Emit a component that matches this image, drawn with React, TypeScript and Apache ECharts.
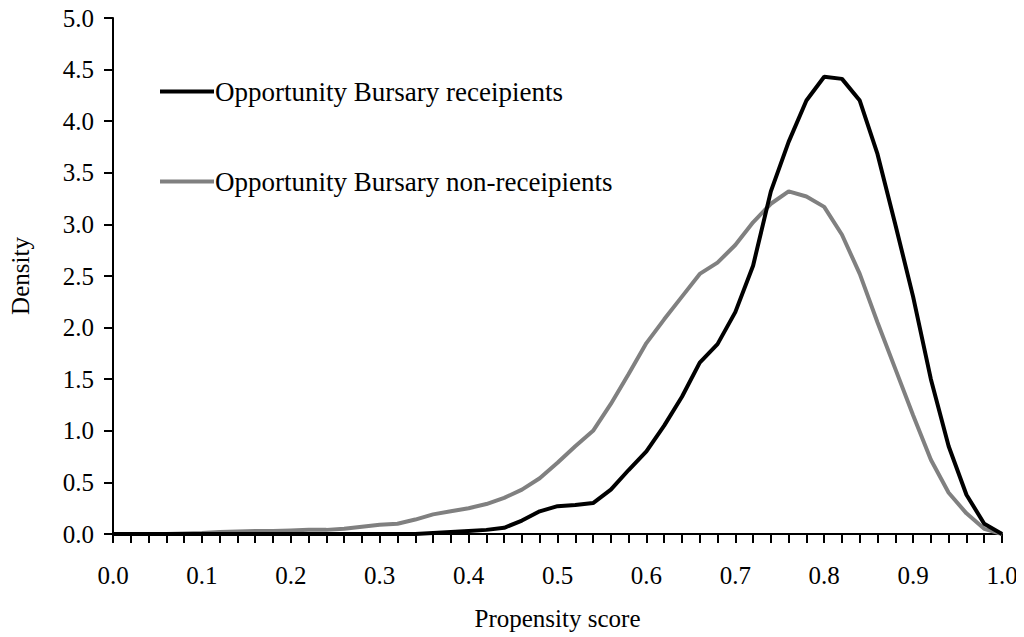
import React, { useEffect, useRef } from "react";
import * as echarts from "echarts";

const scores = [
  0.0, 0.02, 0.04, 0.06, 0.08, 0.1, 0.12, 0.14, 0.16, 0.18, 0.2, 0.22, 0.24, 0.26, 0.28, 0.3,
  0.32, 0.34, 0.36, 0.38, 0.4, 0.42, 0.44, 0.46, 0.48, 0.5, 0.52, 0.54, 0.56, 0.58, 0.6,
  0.62, 0.64, 0.66, 0.68, 0.7, 0.72, 0.74, 0.76, 0.78, 0.8, 0.82, 0.84, 0.86, 0.88, 0.9,
  0.92, 0.94, 0.96, 0.98, 1.0,
];

const receipients = [
  0, 0, 0, 0, 0, 0, 0, 0, 0, 0, 0, 0, 0, 0, 0, 0,
  0, 0, 0.01, 0.02, 0.03, 0.04, 0.06, 0.13, 0.22, 0.27, 0.28, 0.3, 0.43, 0.62, 0.8,
  1.05, 1.33, 1.66, 1.84, 2.15, 2.6, 3.32, 3.8, 4.2, 4.43, 4.41, 4.2, 3.68, 3.0, 2.3,
  1.5, 0.85, 0.38, 0.1, 0.0,
];

const nonReceipients = [
  0, 0, 0, 0, 0.005, 0.01, 0.02, 0.025, 0.03, 0.03, 0.035, 0.04, 0.04, 0.05, 0.07, 0.09,
  0.1, 0.14, 0.19, 0.22, 0.25, 0.29, 0.35, 0.43, 0.54, 0.69, 0.85, 1.0, 1.26, 1.55, 1.85,
  2.08, 2.3, 2.52, 2.63, 2.8, 3.02, 3.2, 3.32, 3.27, 3.17, 2.9, 2.52, 2.05, 1.6, 1.15,
  0.72, 0.4, 0.2, 0.05, 0.0,
];

const seriesNames = ["Opportunity Bursary receipients", "Opportunity Bursary non-receipients"];

const FONT = "'Liberation Serif', 'Times New Roman', serif";

export default function App() {
  const ref = useRef<HTMLDivElement>(null);
  useEffect(() => {
    if (!ref.current) return;
    const chart = echarts.init(ref.current, undefined, { renderer: "svg" });
    chart.setOption({
      animation: false,
      backgroundColor: "#ffffff",
      textStyle: { fontFamily: FONT, color: "#000" },
      grid: { left: 102, right: 22, top: 18, bottom: 103, containLabel: false },
      legend: {
        orient: "vertical",
        left: 155,
        top: 73,
        itemGap: 63,
        itemWidth: 54,
        itemHeight: 4,
        icon: "rect",
        itemStyle: { borderWidth: 0 },
        textStyle: { fontFamily: FONT, fontSize: 27, color: "#000", padding: [0, 0, 0, -4] },
        data: seriesNames,
      },
      xAxis: {
        type: "value",
        min: 0,
        max: 1,
        interval: 0.1,
        name: "Propensity score",
        nameLocation: "middle",
        nameGap: 72,
        nameTextStyle: { fontFamily: FONT, fontSize: 25, color: "#000" },
        axisLine: { show: true, lineStyle: { color: "#000", width: 2 } },
        axisTick: { show: true, inside: false, length: 9, lineStyle: { color: "#000", width: 2 } },
        minorTick: { show: true, splitNumber: 5, length: 9, lineStyle: { color: "#000", width: 2 } },
        splitLine: { show: false },
        minorSplitLine: { show: false },
        axisLabel: {
          fontFamily: FONT,
          fontSize: 25,
          color: "#000",
          margin: 29,
          formatter: (v: number) => v.toFixed(1),
        },
      },
      yAxis: {
        type: "value",
        min: 0,
        max: 5,
        interval: 0.5,
        name: "Density",
        nameLocation: "middle",
        nameGap: 80,
        nameRotate: 90,
        nameTextStyle: { fontFamily: FONT, fontSize: 25, color: "#000" },
        axisLine: { show: true, lineStyle: { color: "#000", width: 2 } },
        axisTick: { show: true, inside: false, length: 9, lineStyle: { color: "#000", width: 2 } },
        splitLine: { show: false },
        axisLabel: {
          fontFamily: FONT,
          fontSize: 25,
          color: "#000",
          margin: 19,
          formatter: (v: number) => v.toFixed(1),
        },
      },
      series: [
        {
          name: seriesNames[0],
          type: "line",
          data: scores.map((s, i) => [s, receipients[i]]),
          showSymbol: false,
          symbol: "none",
          lineStyle: { color: "#000000", width: 4 },
          itemStyle: { color: "#000000" },
          z: 3,
        },
        {
          name: seriesNames[1],
          type: "line",
          data: scores.map((s, i) => [s, nonReceipients[i]]),
          showSymbol: false,
          symbol: "none",
          lineStyle: { color: "#808080", width: 4 },
          itemStyle: { color: "#808080" },
          z: 2,
        },
      ],
    });
    return () => chart.dispose();
  }, []);
  return <div ref={ref} style={{ width: 1024, height: 637, marginLeft: -8, marginTop: -8 }} />;
}
